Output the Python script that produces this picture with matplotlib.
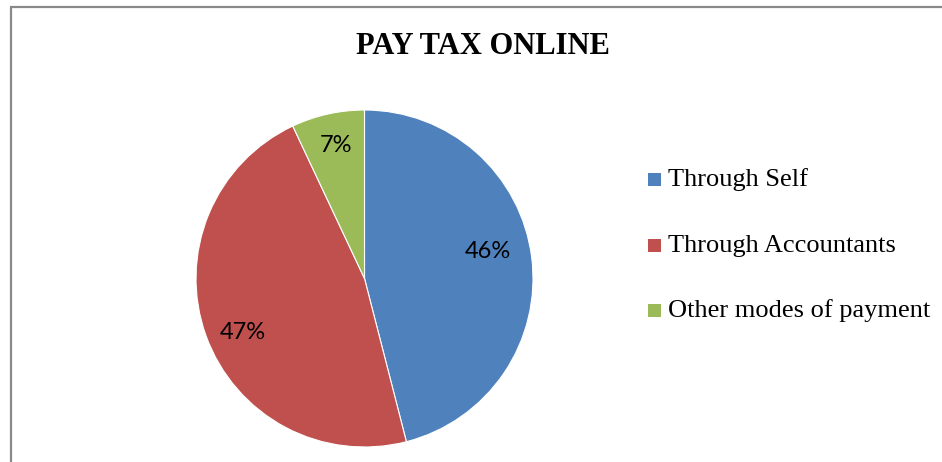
import matplotlib.pyplot as plt
from matplotlib.patches import Rectangle

# data
labels = ["Through Self", "Through Accountants", "Other modes of payment"]
values = [46, 47, 7]
colors = ["#4F81BD", "#C0504D", "#9BBB59"]

# label positions inside the pie (in units of radius)
pct_pos = [(0.73, 0.16), (-0.72, -0.32), (-0.17, 0.79)]

W, H = 942, 462
fig = plt.figure(figsize=(W / 100, H / 100), dpi=100)

# chart frame (cut off on right and bottom like the screenshot)
fig.add_artist(Rectangle((11 / W, -0.1), 1.2, 1.1 - 7 / H, transform=fig.transFigure,
                         fill=False, edgecolor="#898989", linewidth=1.6))

# pie axes: center (364.5, 278.5) px, radius 168.5 px
cx, cy, r = 364.5, 278.5, 168.5
ax = fig.add_axes([(cx - r) / W, (H - cy - r) / H, 2 * r / W, 2 * r / H])
wedges, texts, autotexts = ax.pie(values, colors=colors, startangle=90, counterclock=False,
                                  autopct="%d%%", radius=1,
                                  wedgeprops=dict(edgecolor="white", linewidth=0.8),
                                  textprops=dict(fontsize=17, family="Lato", color="black"))
for t, p in zip(autotexts, pct_pos):
    t.set_position(p)
    t.set_va("center")
    t.set_ha("center")
ax.set_xlim(-1, 1)
ax.set_ylim(-1, 1)
ax.set_aspect("equal")
ax.axis("off")

# title
fig.text(483 / W, 1 - 47 / H, "PAY TAX ONLINE", ha="center", va="center",
         fontsize=22, fontweight="bold", family="Liberation Serif")

# legend
row_y = [179, 245, 310]
for lab, col, y in zip(labels, colors, row_y):
    fig.add_artist(Rectangle((648 / W, 1 - (y + 6.5) / H), 13 / W, 13 / H,
                             transform=fig.transFigure, facecolor=col, edgecolor="none"))
    fig.text(668 / W, 1 - (y + 7) / H, lab, ha="left", va="baseline",
             fontsize=19, family="Liberation Serif")

fig.savefig("out.png", dpi=100)
